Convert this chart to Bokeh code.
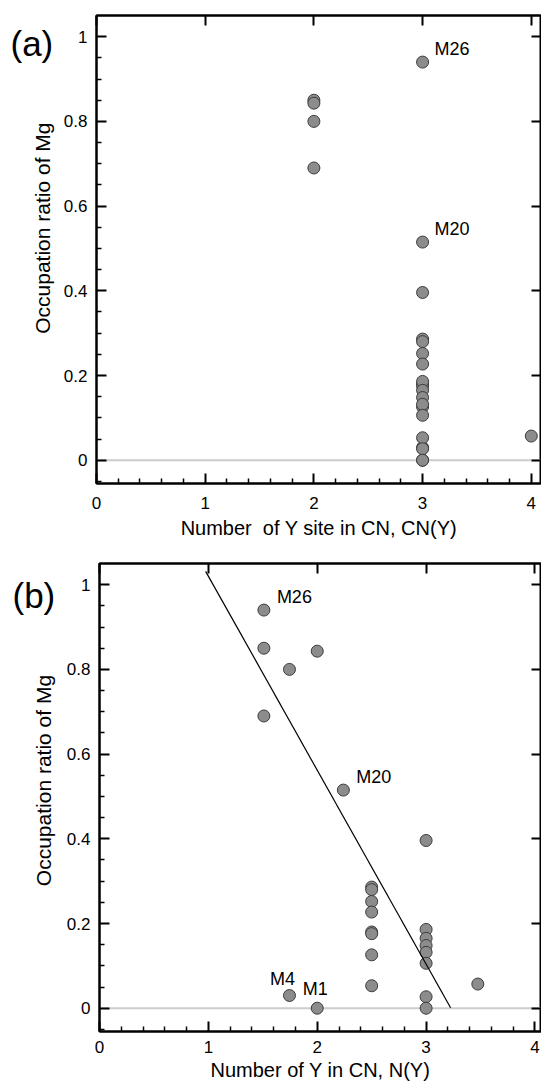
import numpy as np
from bokeh.plotting import figure
from bokeh.models import (Range1d, LinearAxis, FixedTicker, CustomJSTickFormatter,
                          Span, LabelSet, ColumnDataSource)
from bokeh.core.properties import value
from bokeh.layouts import column, row
from bokeh.embed import file_html
from bokeh.resources import INLINE

# ---- data ----
ratio_mg = [0.94, 0.85, 0.69, 0.80, 0.843, 0.03, 0.0, 0.515,
            0.286, 0.280, 0.252, 0.227, 0.180, 0.176, 0.126, 0.053,
            0.396, 0.186, 0.165, 0.148, 0.132, 0.106, 0.027, 0.0,
            0.057]
cn_y = [3, 2, 2, 2, 2, 3, 3, 3,
        3, 3, 3, 3, 3, 3, 3, 3,
        3, 3, 3, 3, 3, 3, 3, 3,
        4]
n_y = [1.51, 1.51, 1.51, 1.745, 2.0, 1.745, 2.0, 2.24,
       2.5, 2.5, 2.5, 2.5, 2.5, 2.5, 2.5, 2.5,
       3.0, 3.0, 3.0, 3.0, 3.0, 3.0, 3.0, 3.0,
       3.475]

a_lab_names = ["M26", "M20"]
a_lab_x = [3, 3]
a_lab_y = [0.94, 0.515]

b_lab_names = ["M26", "M20"]
b_lab_x = [1.51, 2.24]
b_lab_y = [0.94, 0.515]
b_m4_name, b_m4_x, b_m4_y = ["M4"], [1.745], [0.03]
b_m1_name, b_m1_x, b_m1_y = ["M1"], [2.0], [0.0]

fit_intercept = 1.478
fit_slope = -0.458
fit_x = [0.975, 3.225]

x_major = [0, 1, 2, 3, 4]
x_minor = [round(i * 0.2, 2) for i in range(0, 21) if i % 5 != 0]
y_major = [0, 0.2, 0.4, 0.6, 0.8, 1]
y_minor = [round(i * 0.05, 2) for i in range(-1, 21) if i % 4 != 0]

y_title = "Occupation ratio of Mg"
xa_title = "Number\u00a0 of Y site in CN, CN(Y)"
xb_title = "Number of Y in CN, N(Y)"

FONT = "Liberation Sans"


def style_axis(ax, ticks, minor, standoff):
    ax.ticker = FixedTicker(ticks=ticks, minor_ticks=minor)
    ax.formatter = CustomJSTickFormatter(code="return tick.toString();")
    ax.major_tick_in = 10
    ax.major_tick_out = 0
    ax.minor_tick_in = 5
    ax.minor_tick_out = 0
    ax.major_tick_line_width = 2
    ax.minor_tick_line_width = 1.5
    ax.axis_line_width = 2
    ax.major_label_text_font = FONT
    ax.major_label_text_font_size = "17px"
    ax.major_label_text_color = "black"
    ax.major_label_standoff = standoff
    ax.axis_label_text_font = FONT
    ax.axis_label_text_font_size = "20px"
    ax.axis_label_text_font_style = "normal"
    ax.axis_label_text_color = "black"


def mirror_axis(ticks, side, p):
    ax = LinearAxis(ticker=FixedTicker(ticks=ticks),
                    formatter=CustomJSTickFormatter(code="return '';"))
    ax.major_tick_in = 10
    ax.major_tick_out = 0
    ax.minor_tick_line_color = None
    ax.major_tick_line_width = 2
    ax.axis_line_width = 2
    ax.major_label_standoff = 0
    ax.major_label_text_font_size = "1px"
    p.add_layout(ax, side)


def side_panel(height, tag, tag_x, tag_y, lab_x, lab_y):
    s = figure(width=56, height=height, x_range=Range1d(0, 56),
               y_range=Range1d(height, 0), output_backend="svg",
               toolbar_location=None, x_axis_type=None, y_axis_type=None,
               min_border=0)
    s.grid.visible = False
    s.outline_line_color = None
    s.text(x=[tag_x], y=[tag_y], text=[tag], text_font=value(FONT),
           text_font_size="35px", text_baseline="middle", text_align="left",
           text_color="black")
    s.text(x=[lab_x], y=[lab_y], text=[y_title], angle=np.pi / 2,
           text_font=value(FONT), text_font_size="21px", text_baseline="middle",
           text_align="center", text_color="black")
    return s


def make_panel(xs, ys, x_end, height, b_left, b_top, b_bottom, xlabel, xstand, lstand):
    p = figure(width=485, height=height, x_range=Range1d(0, x_end),
               y_range=Range1d(-0.055, 1.05), output_backend="svg",
               toolbar_location=None, min_border_left=b_left, min_border_right=0,
               min_border_top=b_top, min_border_bottom=b_bottom)
    p.grid.visible = False
    p.outline_line_color = "black"
    p.outline_line_width = 2

    style_axis(p.xaxis[0], x_major, x_minor, xstand)
    style_axis(p.yaxis[0], y_major, y_minor, 9)
    p.xaxis[0].axis_label = xlabel
    p.xaxis[0].axis_label_standoff = lstand
    mirror_axis(x_major, "above", p)
    mirror_axis(y_major, "right", p)

    p.add_layout(Span(location=0, dimension="width", line_color="#cccccc",
                      line_width=2, level="underlay"))
    p.scatter(xs, ys, size=12, marker="circle", fill_color="#8c8c8c",
              line_color="#3c3c3c", line_width=1)
    return p


def add_labels(p, xs, ys, names, align, dx, dy):
    src = ColumnDataSource(dict(x=xs, y=ys, t=names))
    p.add_layout(LabelSet(x="x", y="y", text="t", source=src, x_offset=dx, y_offset=dy,
                          text_font=value(FONT), text_font_size="18px",
                          text_align=align, text_baseline="alphabetic",
                          text_color="black"))


# panel (a)
sa = side_panel(548, "(a)", 10, 33, 42, 249)
pa = make_panel(cn_y, ratio_mg, 4.094, 548, 40, 15, 65, xa_title, 13, 5)
add_labels(pa, a_lab_x, a_lab_y, a_lab_names, "left", 12, 7)

# panel (b)
sb = side_panel(537, "(b)", 12, 37, 43, 249)
pb = make_panel(n_y, ratio_mg, 4.06, 537, 43, 15, 54, xb_title, 9, 3)
fx = np.array(fit_x)
pb.line(fx, fit_intercept + fit_slope * fx, line_color="black", line_width=1.2)
add_labels(pb, b_lab_x, b_lab_y, b_lab_names, "left", 13, 7)
add_labels(pb, b_m4_x, b_m4_y, b_m4_name, "center", -7, 11)
add_labels(pb, b_m1_x, b_m1_y, b_m1_name, "center", -2, 13)

layout = column(row(sa, pa), row(sb, pb))
open("out.html", "w").write(file_html(layout, INLINE))
